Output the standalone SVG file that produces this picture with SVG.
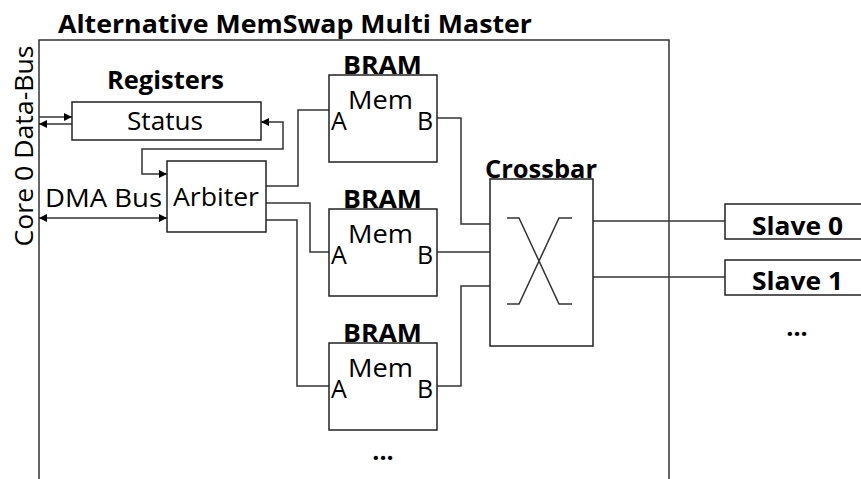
<svg xmlns="http://www.w3.org/2000/svg" width="861" height="479" viewBox="0 0 861 479">
<style>
text{font-family:"Open Sans","Noto Sans","Liberation Sans",sans-serif;fill:#000;}
.b{font-weight:bold;}
.t{font-size:25px;}
.box{fill:#fff;stroke:#222;stroke-width:1.5;}
.ln{fill:none;stroke:#333;stroke-width:1.5;}
.m{text-anchor:middle;}
</style>
<defs>
<marker id="ah" viewBox="0 0 10 10" refX="10" refY="5" markerWidth="8" markerHeight="8" markerUnits="userSpaceOnUse" orient="auto-start-reverse">
<path d="M0,0 L10,5 L0,10 Z" fill="#000"/>
</marker>
</defs>
<rect width="861" height="479" fill="#fff"/>
<g id="frame">
<path class="ln" d="M39,482 V40 H669 V482" stroke="#555"/>
<text class="b t" x="58" y="33" textLength="474" lengthAdjust="spacingAndGlyphs">Alternative MemSwap Multi Master</text>
<text class="t m" transform="translate(33,146) rotate(-90)" x="0" y="0" style="font-size:26px" textLength="201" lengthAdjust="spacingAndGlyphs">Core 0 Data-Bus</text>
</g>
<g id="connectors">
<path class="ln" d="M39,117 H72" marker-end="url(#ah)"/>
<path class="ln" d="M72,124 H39" marker-end="url(#ah)"/>
<path class="ln" d="M261,122 H283 V149 H142 V174 H167" marker-start="url(#ah)" marker-end="url(#ah)"/>
<path class="ln" d="M39,218 H167" marker-start="url(#ah)" marker-end="url(#ah)"/>
<path class="ln" d="M266,186 H298 V110 H329"/>
<path class="ln" d="M266,203 H310 V252 H329"/>
<path class="ln" d="M266,220 H297 V386 H329"/>
<path class="ln" d="M437,118 H461 V224 H490"/>
<path class="ln" d="M437,252 H490"/>
<path class="ln" d="M437,386 H461 V286 H490"/>
<path class="ln" d="M593,221 H725"/>
<path class="ln" d="M593,277 H725"/>
</g>
<g id="registers">
<text class="b t m" x="165.5" y="89" textLength="117" lengthAdjust="spacingAndGlyphs">Registers</text>
<rect class="box" x="72" y="102" width="189" height="38"/>
<text class="t m" x="165" y="130" textLength="76" lengthAdjust="spacingAndGlyphs">Status</text>
</g>
<g id="arbiter">
<rect class="box" x="167" y="161" width="99" height="71"/>
<text class="t m" x="216" y="206" textLength="86" lengthAdjust="spacingAndGlyphs">Arbiter</text>
</g>
<g id="dma-label">
<text class="t m" x="103.5" y="207" textLength="117" lengthAdjust="spacingAndGlyphs">DMA Bus</text>
</g>
<g id="bram1">
<rect class="box" x="329" y="75" width="108" height="87"/>
<text class="b t m" x="382.5" y="74" textLength="79" lengthAdjust="spacingAndGlyphs">BRAM</text>
<text class="t m" x="380.5" y="109" textLength="65" lengthAdjust="spacingAndGlyphs">Mem</text>
<text class="t" x="331" y="130">A</text>
<text class="t" x="417" y="130">B</text>
</g>
<g id="bram2">
<rect class="box" x="329" y="209" width="108" height="87"/>
<text class="b t m" x="382.5" y="208" textLength="79" lengthAdjust="spacingAndGlyphs">BRAM</text>
<text class="t m" x="380.5" y="243" textLength="65" lengthAdjust="spacingAndGlyphs">Mem</text>
<text class="t" x="331" y="264">A</text>
<text class="t" x="417" y="264">B</text>
</g>
<g id="bram3">
<rect class="box" x="329" y="343" width="108" height="87"/>
<text class="b t m" x="382.5" y="342" textLength="79" lengthAdjust="spacingAndGlyphs">BRAM</text>
<text class="t m" x="380.5" y="377" textLength="65" lengthAdjust="spacingAndGlyphs">Mem</text>
<text class="t" x="331" y="398">A</text>
<text class="t" x="417" y="398">B</text>
</g>
<g id="bram-more">
<text class="b t m" x="383" y="460">...</text>
</g>
<g id="crossbar">
<rect class="box" x="490" y="179" width="103" height="167"/>
<text class="b t m" x="541" y="178" textLength="112" lengthAdjust="spacingAndGlyphs">Crossbar</text>
<path class="ln" d="M507,218 H519 L559,304 H572 M572,218 H559 L519,304 H507"/>
</g>
<g id="slave0">
<rect class="box" x="725" y="204" width="150" height="35"/>
<text class="b t m" x="797.5" y="235" textLength="91" lengthAdjust="spacingAndGlyphs">Slave 0</text>
</g>
<g id="slave1">
<rect class="box" x="725" y="260" width="150" height="35"/>
<text class="b t m" x="797.5" y="290" textLength="91" lengthAdjust="spacingAndGlyphs">Slave 1</text>
</g>
<g id="slave-more">
<text class="b t m" x="797" y="336">...</text>
</g>
</svg>
